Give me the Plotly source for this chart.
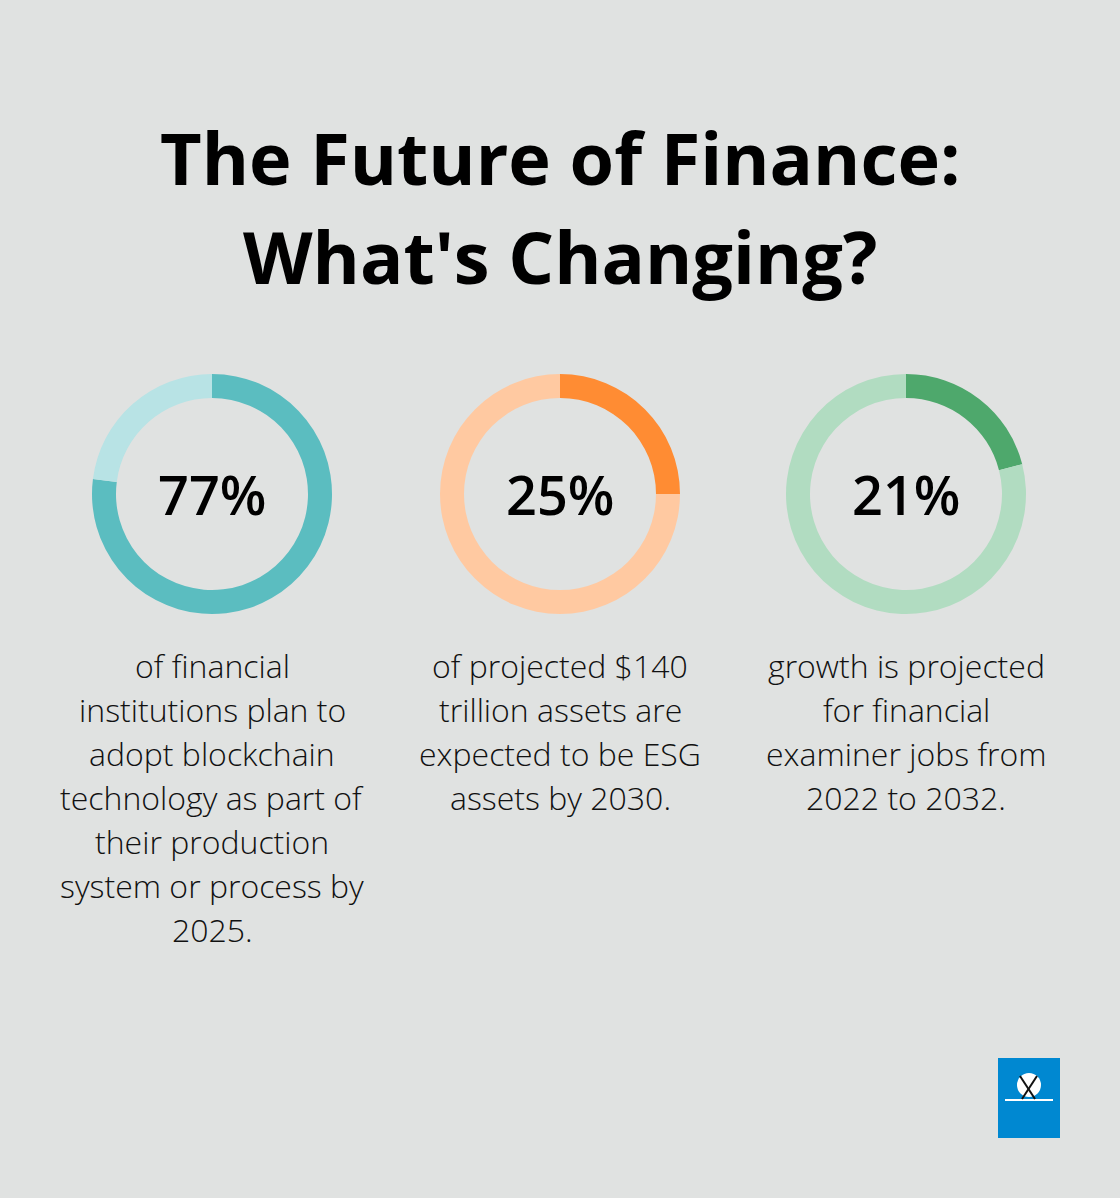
import plotly.graph_objects as go

W, H = 1120, 1198

title_lines = ["The Future of Finance:", "What's Changing?"]
percents = [77, 25, 21]
labels = ["77%", "25%", "21%"]
main_colors = ["#5bbdc0", "#ff8c33", "#4ea86c"]
light_colors = ["#b8e3e5", "#ffc9a1", "#b1dcc1"]
captions = [
    ["of financial", "institutions plan to", "adopt blockchain", "technology as part of",
     "their production", "system or process by", "2025."],
    ["of projected $140", "trillion assets are", "expected to be ESG", "assets by 2030."],
    ["growth is projected", "for financial", "examiner jobs from", "2022 to 2032."],
]

centers_x = [212, 560, 906]
center_y = 494
R = 120

fig = go.Figure()

for i, p in enumerate(percents):
    cx = centers_x[i]
    fig.add_trace(go.Pie(
        values=[p, 100 - p],
        marker=dict(colors=[main_colors[i], light_colors[i]], line=dict(width=0)),
        hole=0.8,
        sort=False,
        direction="clockwise",
        rotation=0,
        textinfo="none",
        hoverinfo="skip",
        showlegend=False,
        domain=dict(x=[(cx - R) / W, (cx + R) / W],
                    y=[(H - (center_y + R)) / H, (H - (center_y - R)) / H]),
    ))
    fig.add_annotation(x=cx / W, y=1 - center_y / H, xref="paper", yref="paper",
                       text=labels[i], showarrow=False, xanchor="center", yanchor="middle",
                       font=dict(family="Open Sans", size=54, color="#000000", weight=600))
    for j, line in enumerate(captions[i]):
        ly = 665 + 44 * j
        fig.add_annotation(x=cx / W, y=1 - ly / H, xref="paper", yref="paper",
                           text=line, showarrow=False, xanchor="center", yanchor="middle",
                           font=dict(family="Open Sans", size=32, color="#111111", weight=300))

for k, t in enumerate(title_lines):
    ty = 157 + 99 * k
    fig.add_annotation(x=0.5, y=1 - ty / H, xref="paper", yref="paper", text=t,
                       showarrow=False, xanchor="center", yanchor="middle",
                       font=dict(family="Open Sans", size=72, color="#000000", weight=700))

# logo
shapes = [
    dict(type="rect", xref="paper", yref="paper", x0=998 / W, x1=1060 / W,
         y0=1 - 1138 / H, y1=1 - 1058 / H, fillcolor="#0088d1", line=dict(width=0)),
    dict(type="circle", xref="paper", yref="paper", x0=1017 / W, x1=1041 / W,
         y0=1 - 1097 / H, y1=1 - 1073 / H, fillcolor="#ffffff", line=dict(width=0)),
    dict(type="rect", xref="paper", yref="paper", x0=1005 / W, x1=1053 / W,
         y0=1 - 1101 / H, y1=1 - 1099 / H, fillcolor="#ffffff", line=dict(width=0)),
    dict(type="line", xref="paper", yref="paper", x0=1020 / W, x1=1035 / W,
         y0=1 - 1076 / H, y1=1 - 1099 / H, line=dict(color="#111111", width=2)),
    dict(type="line", xref="paper", yref="paper", x0=1037 / W, x1=1022 / W,
         y0=1 - 1076 / H, y1=1 - 1099 / H, line=dict(color="#111111", width=2)),
]

fig.update_layout(
    width=W, height=H,
    margin=dict(l=0, r=0, t=0, b=0),
    paper_bgcolor="#e0e2e1",
    plot_bgcolor="#e0e2e1",
    shapes=shapes,
)

fig.write_html("out.html", config={"displayModeBar": False},
               post_script="document.body.style.margin='0';document.body.style.overflow='hidden';")
